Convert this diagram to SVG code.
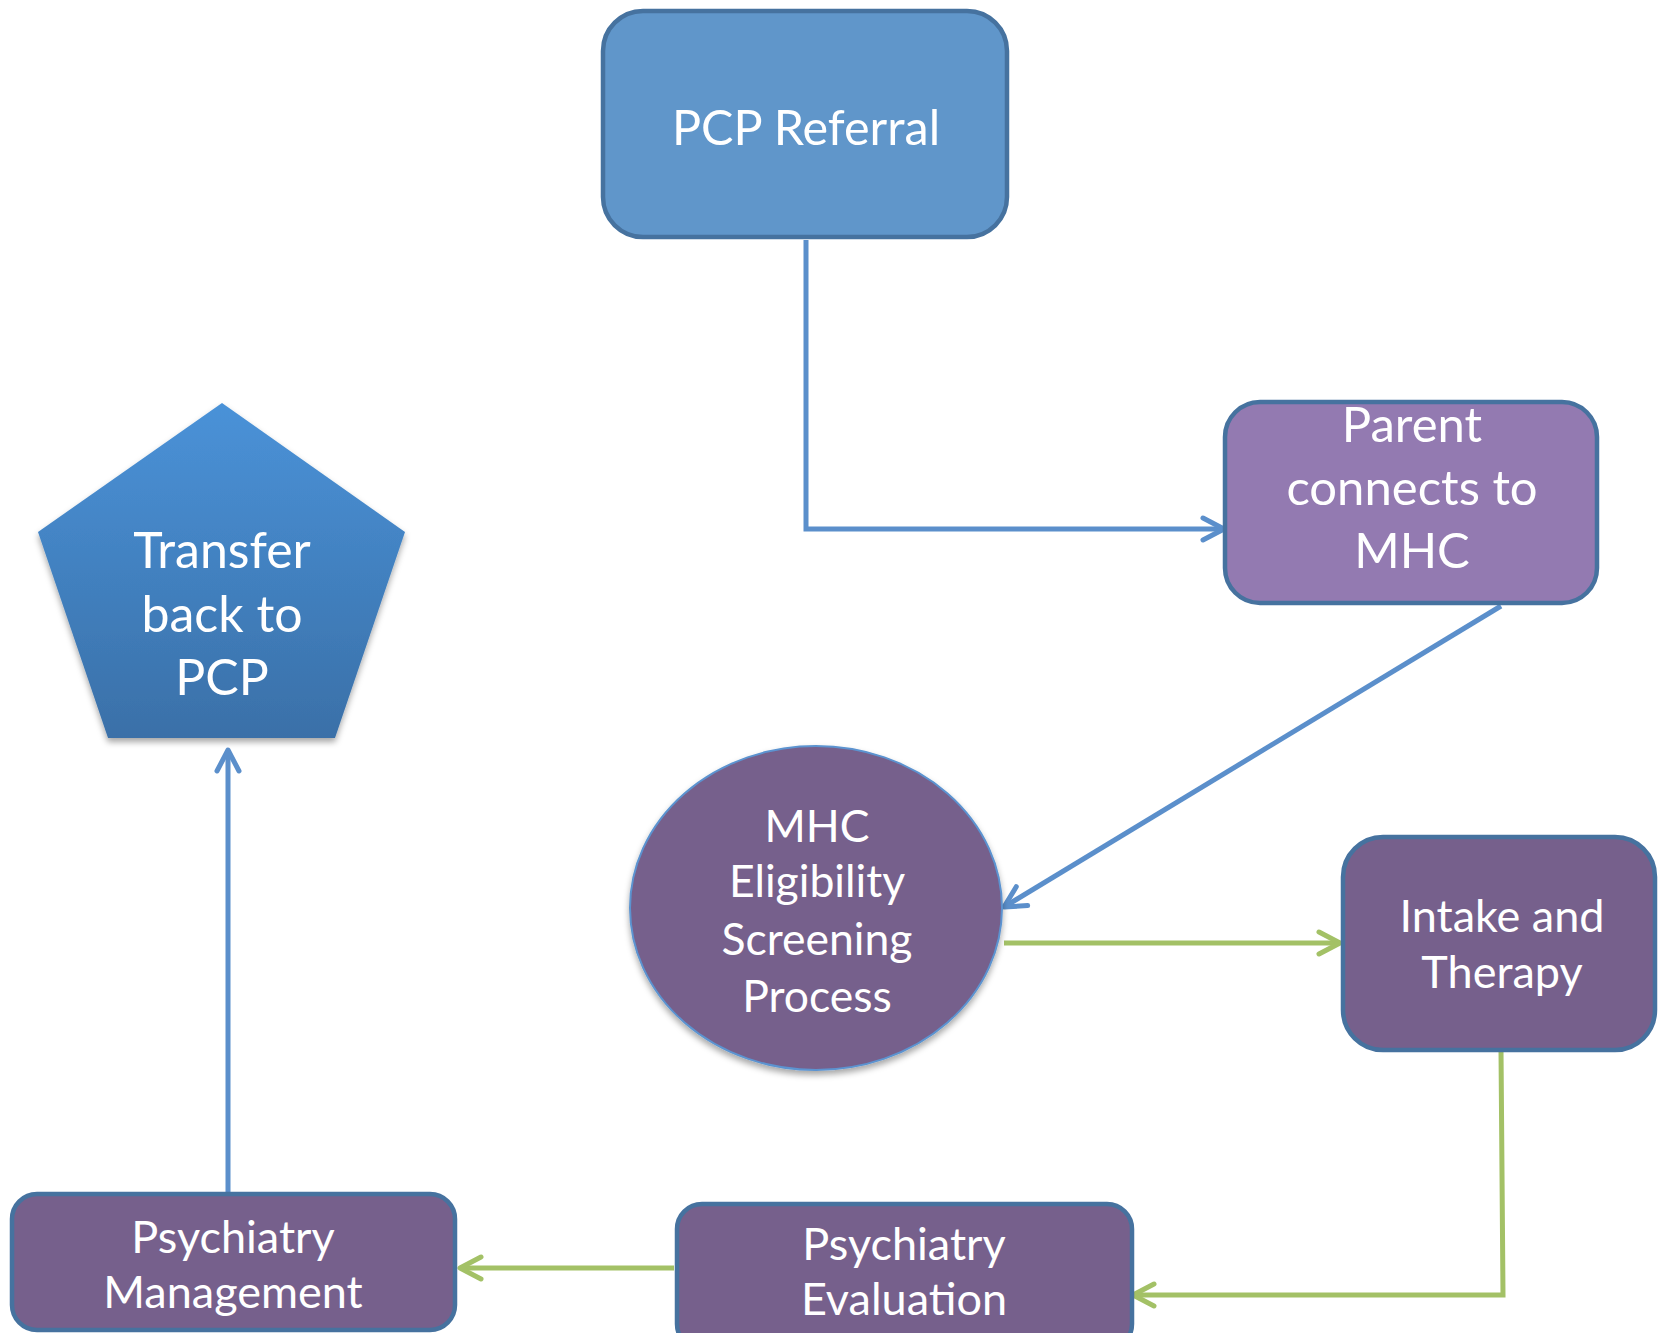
<svg xmlns="http://www.w3.org/2000/svg" width="1658" height="1333" viewBox="0 0 1658 1333">
<style>
.box{stroke:#46729F;stroke-width:4.5}
.dark{fill:#76608C}
.lbl{fill:#FFFFFF;font-family:Lato,"Open Sans","Liberation Sans",sans-serif;text-anchor:middle}
.blue{fill:none;stroke:#5B8FCB;stroke-width:5}
.green{fill:none;stroke:#A3C166;stroke-width:5}
</style>
<defs>
<linearGradient id="pg" x1="0" y1="0" x2="0" y2="1">
<stop offset="0" stop-color="#4A92D8"/>
<stop offset="1" stop-color="#3A70A8"/>
</linearGradient>
<filter id="sh" x="-10%" y="-10%" width="120%" height="125%">
<feDropShadow dx="0" dy="4" stdDeviation="3" flood-color="#000" flood-opacity="0.35"/>
</filter>
<marker id="ab" viewBox="-30 -16 36 32" markerWidth="36" markerHeight="32" refX="0" refY="0" orient="auto" markerUnits="userSpaceOnUse">
<path d="M -21 -11 L 0 0 L -21 11" fill="none" stroke="#5B8FCB" stroke-width="5" stroke-linecap="round" stroke-linejoin="round"/>
</marker>
<marker id="ag" viewBox="-30 -16 36 32" markerWidth="36" markerHeight="32" refX="0" refY="0" orient="auto" markerUnits="userSpaceOnUse">
<path d="M -21 -11 L 0 0 L -21 11" fill="none" stroke="#A3C166" stroke-width="5" stroke-linecap="round" stroke-linejoin="round"/>
</marker>
</defs>
<g id="connectors">
<path class="blue" d="M 806 240 V 529 H 1224" marker-end="url(#ab)"/>
<path class="blue" d="M 1501 606 L 1004 907" marker-end="url(#ab)"/>
<path class="green" d="M 1004 943 H 1340" marker-end="url(#ag)"/>
<path class="green" d="M 1501 1050 L 1503 1295 H 1133" marker-end="url(#ag)"/>
<path class="green" d="M 674 1268 H 460" marker-end="url(#ag)"/>
<path class="blue" d="M 228 1194 V 750" marker-end="url(#ab)"/>
</g>
<g id="pcp-referral">
<rect class="box" x="603" y="11" width="404" height="226" rx="40" fill="#6096CA"/>
<text class="lbl" x="806" y="145" font-size="48.5">PCP Referral</text>
</g>
<g id="parent-connects">
<rect class="box" x="1225" y="402" width="372" height="201" rx="35" fill="#937AB1"/>
<text class="lbl" x="1412" y="442" font-size="49">Parent</text>
<text class="lbl" x="1412" y="505" font-size="49">connects to</text>
<text class="lbl" x="1412" y="568" font-size="49">MHC</text>
</g>
<g id="transfer-back">
<polygon points="222,403 405,532 335,738 108,738 38,532" fill="url(#pg)" filter="url(#sh)"/>
<text class="lbl" x="222" y="568" font-size="50">Transfer</text>
<text class="lbl" x="222" y="632" font-size="50">back to</text>
<text class="lbl" x="222" y="695" font-size="50">PCP</text>
</g>
<g id="mhc-eligibility">
<ellipse cx="816" cy="908" rx="186" ry="162" fill="#76608C" stroke="#5B93D0" stroke-width="2" filter="url(#sh)"/>
<text class="lbl" x="817" y="842" font-size="44.5">MHC</text>
<text class="lbl" x="817" y="897" font-size="44.5">Eligibility</text>
<text class="lbl" x="817" y="955" font-size="44.5">Screening</text>
<text class="lbl" x="817" y="1012" font-size="44.5">Process</text>
</g>
<g id="intake-therapy">
<rect class="box dark" x="1343" y="837" width="312" height="213" rx="40"/>
<text class="lbl" x="1502" y="932" font-size="45">Intake and</text>
<text class="lbl" x="1502" y="988" font-size="45">Therapy</text>
</g>
<g id="psychiatry-evaluation">
<rect class="box dark" x="677" y="1204" width="455" height="145" rx="25"/>
<text class="lbl" x="904" y="1260" font-size="45">Psychiatry</text>
<text class="lbl" x="904" y="1315" font-size="45">Evaluation</text>
</g>
<g id="psychiatry-management">
<rect class="box dark" x="12" y="1194" width="443" height="136" rx="25"/>
<text class="lbl" x="233" y="1253" font-size="45">Psychiatry</text>
<text class="lbl" x="233" y="1308" font-size="45">Management</text>
</g>
</svg>
